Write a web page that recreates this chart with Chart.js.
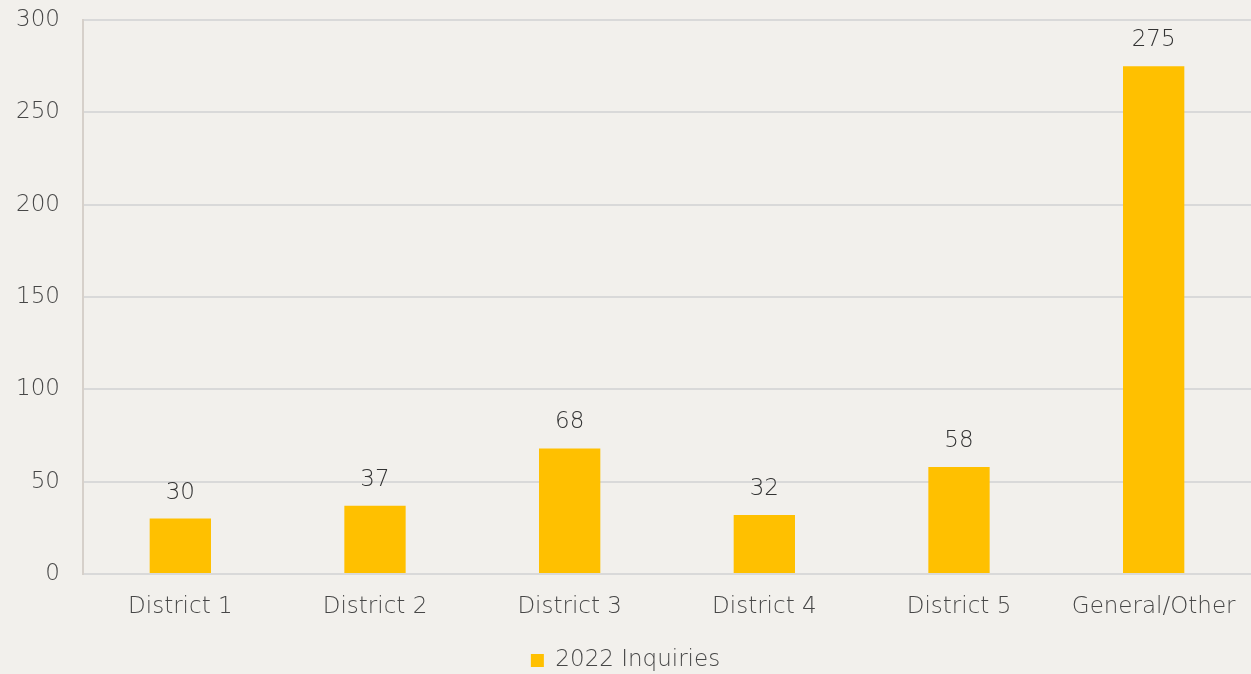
<!DOCTYPE html>
<html>
<head>
<meta charset="utf-8">
<script src="https://cdn.jsdelivr.net/npm/chart.js@4/dist/chart.umd.min.js"></script>
<style>
  html, body { margin: 0; padding: 0; background: #f2f0ec; }
  #wrap { width: 1251px; height: 674px; position: relative; }
</style>
</head>
<body>
<div id="wrap"><canvas id="c" width="1251" height="674"></canvas></div>
<script>
const categories = ["District 1", "District 2", "District 3", "District 4", "District 5", "General/Other"];
const inquiries2022 = [30, 37, 68, 32, 58, 275];
const seriesName = "2022 Inquiries";
const yTicks = [0, 50, 100, 150, 200, 250, 300];

const FONT = "'DejaVu Sans'";
const TEXT = "#474747";
const FSIZE = 23;
const FWEIGHT = 300;

const labelPlugin = {
  id: 'barLabels',
  afterDatasetsDraw(chart) {
    const ctx = chart.ctx;
    ctx.save();
    ctx.font = FWEIGHT + " " + FSIZE + "px " + FONT;
    ctx.fillStyle = "#333333";
    ctx.textAlign = "center";
    ctx.textBaseline = "middle";
    chart.data.datasets.forEach((ds, i) => {
      const meta = chart.getDatasetMeta(i);
      meta.data.forEach((bar, j) => {
        ctx.fillText(String(ds.data[j]), bar.x, bar.y - 26);
      });
    });
    ctx.restore();
  }
};

new Chart(document.getElementById('c'), {
  type: 'bar',
  data: {
    labels: categories,
    datasets: [{
      label: seriesName,
      data: inquiries2022,
      backgroundColor: "#FFC000",
      barPercentage: 0.315,
      categoryPercentage: 1.0
    }]
  },
  options: {
    responsive: false,
    animation: false,
    layout: { padding: { left: 0, right: 0, top: 20, bottom: -8 } },
    plugins: {
      legend: {
        position: 'bottom',
        labels: {
          boxWidth: 13, boxHeight: 13,
          color: TEXT,
          font: { family: FONT, size: FSIZE, weight: FWEIGHT },
          padding: 19
        }
      },
      tooltip: { enabled: false }
    },
    scales: {
      x: {
        grid: { display: false, drawTicks: false },
        border: { color: "#d9d9d9", width: 2 },
        ticks: { color: TEXT, font: { family: FONT, size: FSIZE, weight: FWEIGHT }, padding: 19, maxRotation: 0, autoSkip: false },
        afterFit(axis) { axis.height = 56; axis.paddingLeft = 0; axis.paddingRight = 0; }
      },
      y: {
        min: 0, max: 300,
        afterBuildTicks(axis) { axis.ticks = yTicks.map(v => ({ value: v })); },
        grid: { color: "#d9d9d9", lineWidth: 2, drawTicks: false },
        border: { color: "#d6d0ca", width: 2 },
        ticks: { color: TEXT, font: { family: FONT, size: FSIZE, weight: FWEIGHT }, padding: 23 },
        afterFit(axis) { axis.width = 83; axis.paddingTop = 0; axis.paddingBottom = 0; }
      }
    }
  },
  plugins: [labelPlugin]
});
</script>
</body>
</html>
